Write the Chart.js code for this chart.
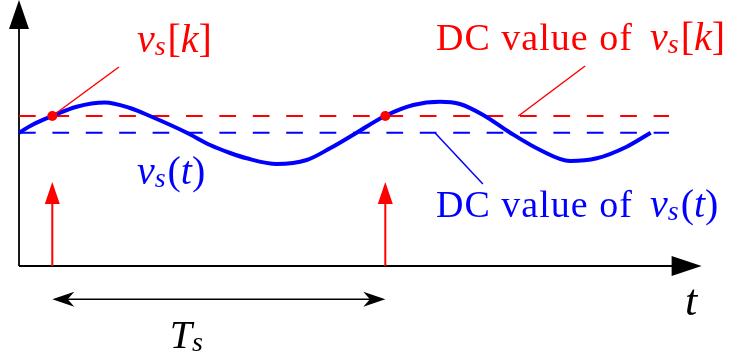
<!DOCTYPE html>
<html>
<head>
<meta charset="utf-8">
<script src="https://cdn.jsdelivr.net/npm/chart.js@4"></script>
<style>
  body { margin: 0; background: #fff; }
  canvas { display: block; }
</style>
</head>
<body>
<canvas id="samplingChart" width="729" height="362"></canvas>
<script>
// time in units of the sampling period Ts, voltage in arbitrary units
const curveT = [0.00, 0.042, 0.100, 0.173, 0.258, 0.333, 0.393, 0.504, 0.574, 0.634, 0.684, 0.774,
                0.864, 0.934, 1.014, 1.099, 1.184, 1.264, 1.324, 1.394, 1.475, 1.565, 1.655,
                1.735, 1.825, 1.897];
const curveV = [1.333, 1.415, 1.500, 1.593, 1.635, 1.580, 1.500, 1.333, 1.210, 1.130, 1.077, 1.020,
                1.060, 1.177, 1.333, 1.500, 1.610, 1.643, 1.620, 1.510, 1.333, 1.160, 1.050,
                1.077, 1.193, 1.333];
const sampleT = [0.1, 1.1];          // sampling instants
const sampleV = [1.5, 1.5];          // v_s[k]
const impulseV = [0.84, 0.84];       // height of the sampling impulses
const dcContinuous = 1.333;          // DC value of v_s(t)
const dcSampled = 1.5;               // DC value of v_s[k]
const dcLineEnd = 1.952;
const axisEndT = 2.05;
const axisEndV = 2.66;

const RED = '#ff0000';
const BLUE = '#0000ff';
const MATH_SIZE = 40;
const TEXT_SIZE = 38;
const FAMILY = '"Liberation Serif"';

function xPx(chart, t) { return chart.scales.x.getPixelForValue(t); }
function yPx(chart, v) { return chart.scales.y.getPixelForValue(v); }

// filled arrow head, tip at (x, y), pointing along angle
function arrowHead(ctx, x, y, angle, len, half, inset) {
    ctx.save();
    ctx.translate(x, y);
    ctx.rotate(angle);
    ctx.beginPath();
    ctx.moveTo(0, 0);
    ctx.lineTo(-len, -half);
    ctx.lineTo(-len * (1 - inset), 0);
    ctx.lineTo(-len, half);
    ctx.closePath();
    ctx.fill();
    ctx.restore();
}

function line(ctx, x1, y1, x2, y2) {
    ctx.beginPath();
    ctx.moveTo(x1, y1);
    ctx.lineTo(x2, y2);
    ctx.stroke();
}

// math pieces: {s: text, it: italic, sub: subscript}
function drawMath(ctx, pieces, x, y, size) {
    let cx = x;
    pieces.forEach(p => {
        const fs = Math.round(p.sub ? size * 0.7 : size);
        ctx.font = (p.it ? 'italic ' : 'normal ') + fs + 'px ' + FAMILY;
        ctx.fillText(p.s, cx, y + (p.sub ? size * 0.08 : 0));
        cx += ctx.measureText(p.s).width + (p.sub ? 2 : 0);
    });
}

// upright words spread out to a given width
function drawWords(ctx, text, x, y, width) {
    ctx.font = 'normal ' + TEXT_SIZE + 'px ' + FAMILY;
    const w = ctx.measureText(text).width;
    const gap = Math.max(0, (width - w) / (text.length - 1));
    // place glyphs one by one so the spacing does not depend on letterSpacing support
    let cx = x;
    for (const ch of text) {
        ctx.fillText(ch, cx, y);
        cx += ctx.measureText(ch).width + gap;
    }
}

const vsk = [{ s: 'v', it: true }, { s: 's', it: true, sub: true }, { s: '[' }, { s: 'k', it: true }, { s: ']' }];
const vst = [{ s: 'v', it: true }, { s: 's', it: true, sub: true }, { s: '(' }, { s: 't', it: true }, { s: ')' }];
const tsLabel = [{ s: 'T', it: true }, { s: 's', it: true, sub: true }];

const diagram = {
    id: 'diagram',
    beforeDatasetsDraw(chart) {
        const ctx = chart.ctx;
        const x0 = xPx(chart, 0), y0 = yPx(chart, 0);
        ctx.save();
        ctx.strokeStyle = '#000';
        ctx.fillStyle = '#000';
        ctx.lineWidth = 1.8;
        // time axis
        line(ctx, x0, y0, xPx(chart, axisEndT) - 20, y0);
        arrowHead(ctx, xPx(chart, axisEndT), y0, 0, 30, 10, 0);
        // voltage axis
        line(ctx, x0, y0, x0, yPx(chart, axisEndV) + 20);
        arrowHead(ctx, x0, yPx(chart, axisEndV), -Math.PI / 2, 29, 10, 0);
        ctx.restore();
    },
    afterDatasetsDraw(chart) {
        const ctx = chart.ctx;
        ctx.save();

        // sampling impulses
        ctx.strokeStyle = RED;
        ctx.fillStyle = RED;
        ctx.lineWidth = 2;
        sampleT.forEach((t, i) => {
            const x = xPx(chart, t);
            line(ctx, x, yPx(chart, 0), x, yPx(chart, impulseV[i]) + 15);
            arrowHead(ctx, x, yPx(chart, impulseV[i]), -Math.PI / 2, 22, 7.5, 0);
        });

        // leader lines to the labels
        ctx.lineWidth = 1.5;
        line(ctx, xPx(chart, sampleT[0]), yPx(chart, sampleV[0]), xPx(chart, 0.300), yPx(chart, 1.99));
        line(ctx, xPx(chart, 1.4995), yPx(chart, dcSampled), xPx(chart, 1.700), yPx(chart, 2.0));
        ctx.strokeStyle = BLUE;
        line(ctx, xPx(chart, 1.249), yPx(chart, dcContinuous), xPx(chart, 1.393), yPx(chart, 0.82));

        // period Ts
        ctx.strokeStyle = '#000';
        ctx.fillStyle = '#000';
        ctx.lineWidth = 1.6;
        const ya = yPx(chart, -0.333);
        const xa = xPx(chart, sampleT[0]), xb = xPx(chart, sampleT[1]);
        line(ctx, xa + 12, ya, xb - 12, ya);
        arrowHead(ctx, xa, ya, Math.PI, 22, 7.5, 0.3);
        arrowHead(ctx, xb, ya, 0, 22, 7.5, 0.3);

        // labels
        ctx.textBaseline = 'alphabetic';
        ctx.fillStyle = RED;
        drawMath(ctx, vsk, xPx(chart, 0.354), yPx(chart, 2.14), MATH_SIZE);
        drawWords(ctx, 'DC value of', xPx(chart, 1.252), yPx(chart, 2.16), 196);
        drawMath(ctx, vsk, xPx(chart, 1.895), yPx(chart, 2.16), MATH_SIZE);

        ctx.fillStyle = BLUE;
        drawMath(ctx, vst, xPx(chart, 0.354), yPx(chart, 0.825), MATH_SIZE);
        drawWords(ctx, 'DC value of', xPx(chart, 1.252), yPx(chart, 0.495), 196);
        drawMath(ctx, vst, xPx(chart, 1.895), yPx(chart, 0.495), MATH_SIZE);

        ctx.fillStyle = '#000';
        drawMath(ctx, tsLabel, xPx(chart, 0.453), yPx(chart, -0.82), MATH_SIZE);
        drawMath(ctx, [{ s: 't', it: true }], xPx(chart, 2.0), yPx(chart, -0.49), 44);

        ctx.restore();
    }
};

const ctx = document.getElementById('samplingChart').getContext('2d');
new Chart(ctx, {
    type: 'line',
    data: {
        datasets: [
            {
                // samples v_s[k]
                data: sampleT.map((t, i) => ({ x: t, y: sampleV[i] })),
                showLine: false,
                pointRadius: 5,
                pointBackgroundColor: RED,
                pointBorderWidth: 0,
                order: 0
            },
            {
                // continuous signal v_s(t)
                data: curveT.map((t, i) => ({ x: t, y: curveV[i] })),
                borderColor: BLUE,
                borderWidth: 4,
                pointRadius: 0,
                cubicInterpolationMode: 'monotone',
                order: 1
            },
            {
                data: [{ x: 0, y: dcSampled }, { x: dcLineEnd, y: dcSampled }],
                borderColor: RED,
                borderWidth: 2,
                borderDash: [16.7, 16.7],
                pointRadius: 0,
                order: 2
            },
            {
                data: [{ x: 0, y: dcContinuous }, { x: dcLineEnd, y: dcContinuous }],
                borderColor: BLUE,
                borderWidth: 2,
                borderDash: [16.7, 16.7],
                pointRadius: 0,
                order: 3
            }
        ]
    },
    options: {
        responsive: false,
        animation: false,
        devicePixelRatio: 1,
        events: [],
        layout: { padding: 0, autoPadding: false },
        plugins: { legend: { display: false }, tooltip: { enabled: false } },
        scales: {
            x: { type: 'linear', display: false, min: -19 / 333, max: 710 / 333 },
            y: { type: 'linear', display: false, min: -0.96, max: 2.66 }
        }
    },
    plugins: [diagram]
});
</script>
</body>
</html>
